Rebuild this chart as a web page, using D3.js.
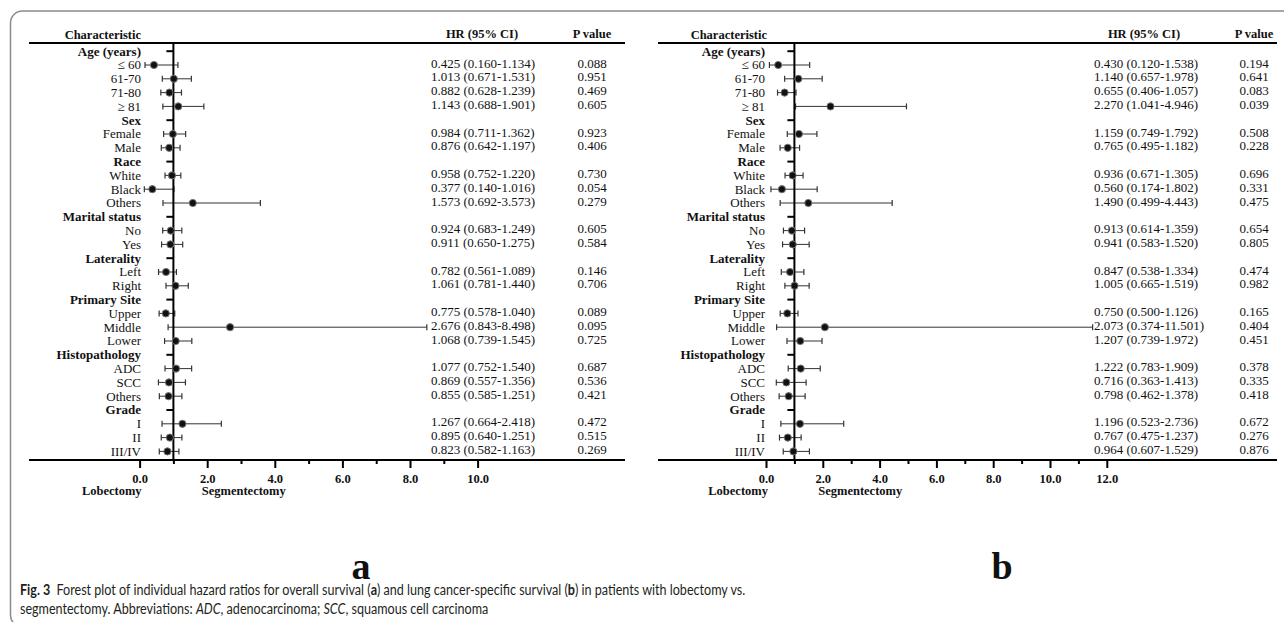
<!DOCTYPE html>
<html>
<head>
<meta charset="utf-8">
<script src="https://cdn.jsdelivr.net/npm/d3@7"></script>
<style>
  body { margin: 0; background: #fff; }
  svg { display: block; }
  .serif { font-family: "Liberation Serif", "Times New Roman", serif; fill: #111; }
</style>
</head>
<body>
<div class="container"></div>
<script>
// Rows of the table (headers are bold, with no estimate)
const rowLabels = ['Age (years)', '≤ 60', '61-70', '71-80', '≥ 81',
  'Sex', 'Female', 'Male',
  'Race', 'White', 'Black', 'Others',
  'Marital status', 'No', 'Yes',
  'Laterality', 'Left', 'Right',
  'Primary Site', 'Upper', 'Middle', 'Lower',
  'Histopathology', 'ADC', 'SCC', 'Others',
  'Grade', 'I', 'II', 'III/IV'];
const headerRows = [0, 5, 8, 12, 15, 18, 22, 26];

// Panel a: overall survival
const hrA   = [0.425, 1.013, 0.882, 1.143, 0.984, 0.876, 0.958, 0.377, 1.573, 0.924, 0.911, 0.782, 1.061, 0.775, 2.676, 1.068, 1.077, 0.869, 0.855, 1.267, 0.895, 0.823];
const lowA  = [0.160, 0.671, 0.628, 0.688, 0.711, 0.642, 0.752, 0.140, 0.692, 0.683, 0.650, 0.561, 0.781, 0.578, 0.843, 0.739, 0.752, 0.557, 0.585, 0.664, 0.640, 0.582];
const highA = [1.134, 1.531, 1.239, 1.901, 1.362, 1.197, 1.220, 1.016, 3.573, 1.249, 1.275, 1.089, 1.440, 1.040, 8.498, 1.545, 1.540, 1.356, 1.251, 2.418, 1.251, 1.163];
const pA    = [0.088, 0.951, 0.469, 0.605, 0.923, 0.406, 0.730, 0.054, 0.279, 0.605, 0.584, 0.146, 0.706, 0.089, 0.095, 0.725, 0.687, 0.536, 0.421, 0.472, 0.515, 0.269];

// Panel b: lung cancer-specific survival
const hrB   = [0.430, 1.140, 0.655, 2.270, 1.159, 0.765, 0.936, 0.560, 1.490, 0.913, 0.941, 0.847, 1.005, 0.750, 2.073, 1.207, 1.222, 0.716, 0.798, 1.196, 0.767, 0.964];
const lowB  = [0.120, 0.657, 0.406, 1.041, 0.749, 0.495, 0.671, 0.174, 0.499, 0.614, 0.583, 0.538, 0.665, 0.500, 0.374, 0.739, 0.783, 0.363, 0.462, 0.523, 0.475, 0.607];
const highB = [1.538, 1.978, 1.057, 4.946, 1.792, 1.182, 1.305, 1.802, 4.443, 1.359, 1.520, 1.334, 1.519, 1.126, 11.501, 1.972, 1.909, 1.413, 1.378, 2.736, 1.237, 1.529];
const pB    = [0.194, 0.641, 0.083, 0.039, 0.508, 0.228, 0.696, 0.331, 0.475, 0.654, 0.805, 0.474, 0.982, 0.165, 0.404, 0.451, 0.378, 0.335, 0.418, 0.672, 0.276, 0.876];

const ticksA = [0, 2, 4, 6, 8, 10];
const ticksB = [0, 2, 4, 6, 8, 10, 12];

const width = 1284, height = 622;
const fmt = d3.format('.3f'), tickFmt = d3.format('.1f');

const svg = d3.select('.container').append('svg')
  .attr('width', width).attr('height', height);

// outer frame, open to the right and bottom like the page crop
svg.append('rect')
  .attr('x', 10.5).attr('y', 11).attr('width', 1300).attr('height', 616)
  .attr('rx', 12).attr('fill', 'none').attr('stroke', '#8a8a8a').attr('stroke-width', 1.5);

const rowY = d3.scalePoint().domain(d3.range(rowLabels.length)).range([51.2, 451.4]);
const tableTop = 43, axisY = 460;

function forest(p) {
  const g = svg.append('g').attr('class', 'serif');
  const x = d3.scaleLinear().domain([0, p.ticks[p.ticks.length - 1]]).range(p.range);

  // join estimates to non-header rows
  const rows = [];
  let k = 0;
  rowLabels.forEach((lab, i) => {
    if (headerRows.includes(i)) rows.push({i, lab, header: true});
    else { rows.push({i, lab, header: false, hr: p.hr[k], lo: p.lo[k], hi: p.hi[k], pv: p.pv[k]}); k++; }
  });

  // column headings
  g.append('text').attr('x', p.charRight).attr('y', 38.5).attr('text-anchor', 'end')
    .style('font-size', '12.5px').style('font-weight', 'bold').text('Characteristic');
  g.append('text').attr('x', p.hrHead).attr('y', 38).attr('text-anchor', 'middle')
    .style('font-size', '12.5px').style('font-weight', 'bold').text('HR (95% CI)');
  g.append('text').attr('x', p.pCol).attr('y', 38).attr('text-anchor', 'middle')
    .style('font-size', '12.5px').style('font-weight', 'bold').text('P value');

  g.append('line').attr('x1', p.left).attr('x2', p.right).attr('y1', tableTop).attr('y2', tableTop)
    .attr('stroke', '#000').attr('stroke-width', 2);

  // row labels
  g.selectAll('.lab').data(rows).enter().append('text')
    .attr('class', 'lab')
    .attr('x', p.labelRight).attr('y', d => rowY(d.i) + 4.3)
    .attr('text-anchor', 'end')
    .style('font-size', '13px')
    .style('font-weight', d => d.header ? 'bold' : 'normal')
    .text(d => d.lab);

  const est = rows.filter(d => !d.header);

  // header dashes
  g.selectAll('.dash').data(rows.filter(d => d.header)).enter().append('line')
    .attr('x1', x(1) - 7).attr('x2', x(1)).attr('y1', d => rowY(d.i)).attr('y2', d => rowY(d.i))
    .attr('stroke', '#000').attr('stroke-width', 2);

  // CI bars
  g.selectAll('.ci').data(est).enter().append('line')
    .attr('x1', d => x(d.lo)).attr('x2', d => x(d.hi))
    .attr('y1', d => rowY(d.i)).attr('y2', d => rowY(d.i))
    .attr('stroke', '#333').attr('stroke-width', 1);
  ['lo', 'hi'].forEach(key => {
    g.selectAll('.cap-' + key).data(est).enter().append('line')
      .attr('x1', d => x(d[key])).attr('x2', d => x(d[key]))
      .attr('y1', d => rowY(d.i) - 3).attr('y2', d => rowY(d.i) + 3)
      .attr('stroke', '#333').attr('stroke-width', 1.2);
  });

  // reference line at HR = 1
  g.append('line').attr('x1', x(1)).attr('x2', x(1)).attr('y1', tableTop).attr('y2', axisY)
    .attr('stroke', '#000').attr('stroke-width', 2);

  g.selectAll('.dot').data(est).enter().append('circle')
    .attr('cx', d => x(d.hr)).attr('cy', d => rowY(d.i)).attr('r', 3.6)
    .attr('fill', '#111').attr('stroke', '#777').attr('stroke-width', 1);

  // HR text and p values
  g.selectAll('.hrt').data(est).enter().append('text')
    .attr('x', p.hrCol).attr('y', d => rowY(d.i) + 2.5)
    .style('font-size', '13px')
    .text(d => fmt(d.hr) + ' (' + fmt(d.lo) + '-' + fmt(d.hi) + ')');
  g.selectAll('.pvt').data(est).enter().append('text')
    .attr('x', p.pCol).attr('y', d => rowY(d.i) + 2.5).attr('text-anchor', 'middle')
    .style('font-size', '13px')
    .text(d => fmt(d.pv));

  // x axis
  g.append('line').attr('x1', p.left).attr('x2', p.right).attr('y1', axisY).attr('y2', axisY)
    .attr('stroke', '#000').attr('stroke-width', 2);
  const minor = d3.range(1, p.ticks[p.ticks.length - 1], 2);
  const ax = g.append('g').attr('transform', 'translate(0,' + axisY + ')')
    .call(d3.axisBottom(x).tickValues(p.ticks).tickSize(8).tickPadding(6).tickFormat(tickFmt));
  ax.select('.domain').remove();
  ax.selectAll('.tick line').attr('stroke-width', 2);
  ax.selectAll('.tick text').attr('class', 'serif')
    .style('font-family', '"Liberation Serif", serif').style('font-size', '12.5px')
    .style('font-weight', 'bold').attr('fill', '#111');
  const axm = g.append('g').attr('transform', 'translate(0,' + axisY + ')')
    .call(d3.axisBottom(x).tickValues(minor).tickSize(4).tickFormat(''));
  axm.select('.domain').remove();
  axm.selectAll('.tick line').attr('stroke-width', 2);

  g.append('text').attr('x', x(0) + 2).attr('y', 494.5).attr('text-anchor', 'end')
    .style('font-size', '12.5px').style('font-weight', 'bold').text('Lobectomy');
  g.append('text').attr('x', x(1.84)).attr('y', 494.5)
    .style('font-size', '12.5px').style('font-weight', 'bold').text('Segmentectomy');

  g.append('text').attr('x', p.letterX).attr('y', 579).attr('text-anchor', 'middle')
    .style('font-size', '38px').style('font-weight', 'bold').text(p.letter);
}

forest({hr: hrA, lo: lowA, hi: highA, pv: pA, ticks: ticksA, range: [139.6, 477.6],
  left: 29, right: 625, labelRight: 141, charRight: 141, hrCol: 431, hrHead: 482, pCol: 592,
  letter: 'a', letterX: 361});
forest({hr: hrB, lo: lowB, hi: highB, pv: pB, ticks: ticksB, range: [766, 1106.8],
  left: 658, right: 1277, labelRight: 765, charRight: 767, hrCol: 1094, hrHead: 1144, pCol: 1254,
  letter: 'b', letterX: 1002});

// caption (printed in a condensed sans; squeeze Lato horizontally to the same line length)
const cap = svg.append('g').style('font-family', 'Lato, "Noto Sans", sans-serif')
  .attr('fill', '#231f20').style('font-size', '16px');
const line1 = cap.append('text').attr('x', 0).attr('y', 595);
line1.append('tspan').style('font-weight', 'bold').text('Fig. 3');
line1.append('tspan').text('\u2002Forest plot of individual hazard ratios for overall survival (');
line1.append('tspan').style('font-weight', 'bold').text('a');
line1.append('tspan').text(') and lung cancer-specific survival (');
line1.append('tspan').style('font-weight', 'bold').text('b');
line1.append('tspan').text(') in patients with lobectomy vs.');
const line2 = cap.append('text').attr('x', 0).attr('y', 614);
line2.append('tspan').text('segmentectomy. Abbreviations: ');
line2.append('tspan').style('font-style', 'italic').text('ADC');
line2.append('tspan').text(', adenocarcinoma; ');
line2.append('tspan').style('font-style', 'italic').text('SCC');
line2.append('tspan').text(', squamous cell carcinoma');
const sx = 726 / line1.node().getComputedTextLength();
cap.attr('transform', 'translate(20,0) scale(' + sx + ',1)');
</script>
</body>
</html>
